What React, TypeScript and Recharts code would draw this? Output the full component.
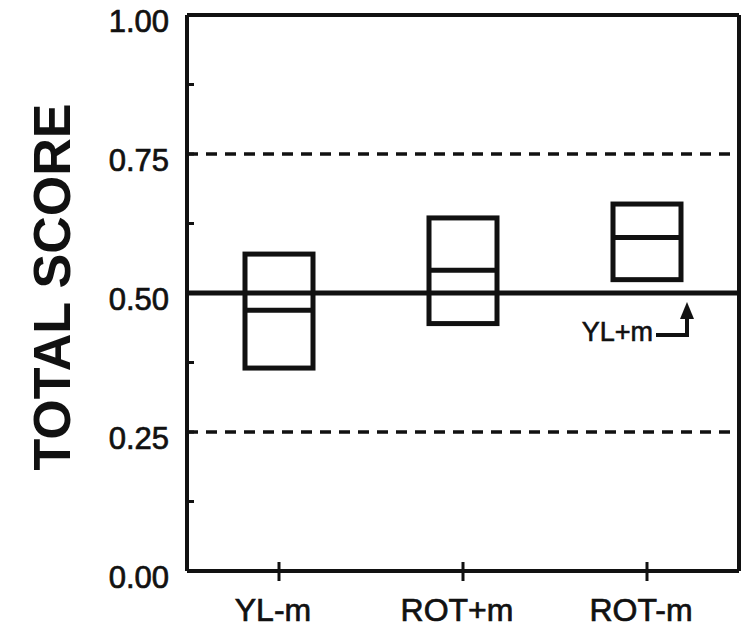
import { ComposedChart, Bar, XAxis, YAxis, ReferenceLine } from 'recharts';

// group labels and box statistics
const categories = ['YL-m', 'ROT+m', 'ROT-m'];
const lowerQuartile = [0.365, 0.445, 0.524];
const upperQuartile = [0.57, 0.635, 0.66];
const medians = [0.469, 0.541, 0.6];

const yTicks = [0, 0.125, 0.25, 0.375, 0.5, 0.625, 0.75, 0.875, 1];
const labelledTicks = [0, 0.25, 0.5, 0.75, 1];
const dashedLevels = [0.25, 0.75];
const chanceLevel = 0.5;
const chanceLabel = 'YL+m';

const data = categories.map((name, i) => ({
  name,
  box: [lowerQuartile[i], upperQuartile[i]],
  low: lowerQuartile[i],
  high: upperQuartile[i],
  median: medians[i],
}));

const FONT = '"Liberation Sans", Arial, Helvetica, sans-serif';
const INK = '#111';

function BoxShape(props: any) {
  const { x, y, width, height, payload } = props;
  const top = Math.min(y, y + height);
  const h = Math.abs(height);
  const my = top + (h * (payload.high - payload.median)) / (payload.high - payload.low);
  return (
    <g>
      <rect x={x} y={top} width={width} height={h} fill="none" stroke={INK} strokeWidth={5} />
      <line x1={x} x2={x + width} y1={my} y2={my} stroke={INK} strokeWidth={5} />
    </g>
  );
}

function YTick(props: any) {
  const { x, y, payload } = props;
  const v = payload.value;
  const axisX = x + 18;
  const labelled = labelledTicks.some((t) => Math.abs(t - v) < 1e-6);
  return (
    <g>
      <line x1={axisX} x2={axisX + 7} y1={y} y2={y} stroke={INK} strokeWidth={3} />
      {labelled && (
        <text
          x={x}
          y={y + 17}
          textAnchor="end"
          fontFamily={FONT}
          fontSize={31}
          fill={INK}
          stroke={INK}
          strokeWidth={0.7}
        >
          {v.toFixed(2)}
        </text>
      )}
    </g>
  );
}

function XTick(props: any) {
  const { x, y, payload } = props;
  return (
    <g>
      <line x1={x} x2={x} y1={y - 9} y2={y + 10} stroke={INK} strokeWidth={3} />
      <text
        x={x - 6}
        y={y + 50}
        textAnchor="middle"
        fontFamily={FONT}
        fontSize={32}
        fill={INK}
        stroke={INK}
        strokeWidth={0.7}
      >
        {payload.value}
      </text>
    </g>
  );
}

function YTitle(props: any) {
  const { viewBox } = props;
  const cx = viewBox.x + 52;
  const cy = viewBox.y + viewBox.height / 2 - 6;
  return (
    <text
      x={cx}
      y={cy}
      transform={`rotate(-90 ${cx} ${cy})`}
      textAnchor="middle"
      dominantBaseline="central"
      fontFamily={FONT}
      fontWeight="bold"
      fontSize={52}
      fill={INK}
    >
      TOTAL SCORE
    </text>
  );
}

function ChanceNote(props: any) {
  const { viewBox } = props;
  const right = viewBox.x + viewBox.width;
  const ly = viewBox.y;
  const ax = right - 52;
  const by = ly + 42;
  return (
    <g>
      <text
        x={ax - 34}
        y={by + 6}
        textAnchor="end"
        fontFamily={FONT}
        fontSize={27}
        fill={INK}
        stroke={INK}
        strokeWidth={0.6}
      >
        {chanceLabel}
      </text>
      <line x1={ax - 31} x2={ax + 2} y1={by} y2={by} stroke={INK} strokeWidth={4} />
      <line x1={ax} x2={ax} y1={by + 2} y2={ly + 22} stroke={INK} strokeWidth={4} />
      <polygon points={`${ax - 7},${ly + 26} ${ax + 7},${ly + 26} ${ax},${ly + 9}`} fill={INK} />
    </g>
  );
}

export default function App() {
  return (
    <div style={{ position: 'absolute', left: 0, top: 0, width: 744, height: 630, background: '#fff' }}>
      <ComposedChart width={744} height={630} data={data} margin={{ top: 14, right: 4, left: 0, bottom: 0 }}>
        <XAxis
          dataKey="name"
          height={59}
          axisLine={{ stroke: INK, strokeWidth: 4 }}
          tickLine={false}
          tickSize={0}
          tickMargin={0}
          tick={<XTick />}
          interval={0}
        />
        <XAxis
          xAxisId="top"
          dataKey="name"
          orientation="top"
          height={1}
          tick={false}
          tickLine={false}
          axisLine={{ stroke: INK, strokeWidth: 4 }}
        />
        <YAxis
          domain={[0, 1]}
          ticks={yTicks}
          width={187}
          axisLine={{ stroke: INK, strokeWidth: 4 }}
          tickLine={false}
          tickSize={0}
          tickMargin={18}
          tick={<YTick />}
          interval={0}
          label={{ content: <YTitle /> }}
        />
        <YAxis
          yAxisId="right"
          orientation="right"
          domain={[0, 1]}
          width={1}
          tick={false}
          tickLine={false}
          axisLine={{ stroke: INK, strokeWidth: 4 }}
        />
        {dashedLevels.map((lv) => (
          <ReferenceLine key={lv} y={lv} stroke={INK} strokeWidth={3.5} strokeDasharray="11 8" />
        ))}
        <ReferenceLine y={chanceLevel} stroke={INK} strokeWidth={5} label={{ content: <ChanceNote /> }} />
        <Bar dataKey="box" barSize={68} shape={<BoxShape />} isAnimationActive={false} />
      </ComposedChart>
    </div>
  );
}
